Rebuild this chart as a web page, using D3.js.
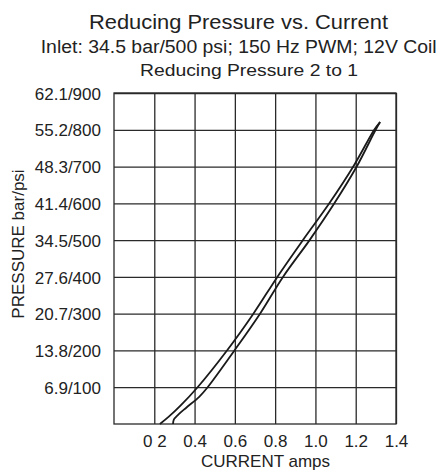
<!DOCTYPE html>
<html>
<head>
<meta charset="utf-8">
<script src="https://cdn.jsdelivr.net/npm/d3@7"></script>
<style>
  body { margin: 0; background: #fff; }
  svg { font-family: "Liberation Sans", Arial, Helvetica, sans-serif; }
</style>
</head>
<body>
<svg id="chart" width="439" height="472"></svg>
<script>
// ticks and labels
var psiTicks = [100, 200, 300, 400, 500, 600, 700, 800, 900];
var yTickLabels = ["6.9/100", "13.8/200", "20.7/300", "27.6/400", "34.5/500",
                   "41.4/600", "48.3/700", "55.2/800", "62.1/900"];
var currentTicks = [0.2, 0.4, 0.6, 0.8, 1.0, 1.2, 1.4];
var xTickLabels = ["0 2", "0.4", "0.6", "0.8", "1.0", "1.2", "1.4"];

// the two curves (current amps, pressure psi)
var upperCurrent = [0.228, 0.272, 0.33, 0.415, 0.561, 0.692, 0.811, 0.938, 1.069, 1.188, 1.292, 1.321];
var upperPsi     = [0,     20,    50,   100,   200,   300,   400,   500,   600,   700,   800,   821];
var lowerCurrent = [0.293, 0.297, 0.318, 0.36, 0.423, 0.465, 0.598, 0.725, 0.839, 0.971, 1.094, 1.205, 1.299, 1.321];
var lowerPsi     = [0,     12,    25,    45,   74,    100,   200,   300,   400,   500,   600,   700,   800,   821];

var margin = {left: 114, right: 43, top: 93, bottom: 48};
var width = 439 - margin.left - margin.right,
    height = 472 - margin.top - margin.bottom;

var svg = d3.select("#chart");
var g = svg.append("g")
  .attr("transform", "translate(" + margin.left + "," + margin.top + ")");

var x = d3.scaleLinear().domain([0, 1.4]).range([0, width]);
var y = d3.scaleLinear().domain([0, 900]).range([height, 0]);

// grid + tick labels via axes
var yAxis = d3.axisLeft(y)
  .tickValues(psiTicks)
  .tickSize(-width)
  .tickPadding(13)
  .tickFormat(function(d, i){ return yTickLabels[i]; });
var xAxis = d3.axisBottom(x)
  .tickValues(currentTicks)
  .tickSize(-height)
  .tickPadding(11)
  .tickFormat(function(d, i){ return xTickLabels[i]; });

var gy = g.append("g").call(yAxis);
var gx = g.append("g").attr("transform", "translate(0," + height + ")").call(xAxis);

[gx, gy].forEach(function(a){
  a.select(".domain").remove();
  a.selectAll("line").attr("stroke", "#2a2a2a").attr("stroke-width", 1.3);
  a.selectAll("text").attr("fill", "#222").style("font-size", "17px");
});
gy.selectAll("text").attr("dy", "0.36em");

g.append("rect")
  .attr("width", width).attr("height", height)
  .attr("fill", "none").attr("stroke", "#2a2a2a").attr("stroke-width", 1.3);

// curves
var line = d3.line()
  .x(function(d){ return x(d[0]); })
  .y(function(d){ return y(d[1]); })
  .curve(d3.curveCatmullRom.alpha(0.5));

var upper = d3.zip(upperCurrent, upperPsi);
var lower = d3.zip(lowerCurrent, lowerPsi);

[upper, lower].forEach(function(s){
  g.append("path")
    .datum(s)
    .attr("fill", "none")
    .attr("stroke", "#1a1a1a")
    .attr("stroke-width", 1.8)
    .attr("d", line);
});

// titles
svg.append("text")
  .attr("x", 238.5).attr("y", 29)
  .attr("text-anchor", "middle")
  .style("font-size", "20px")
  .attr("textLength", 299).attr("lengthAdjust", "spacingAndGlyphs")
  .attr("fill", "#222")
  .text("Reducing Pressure vs. Current");
svg.append("text")
  .attr("x", 238.7).attr("y", 52.5)
  .attr("text-anchor", "middle")
  .style("font-size", "18px")
  .attr("textLength", 396).attr("lengthAdjust", "spacingAndGlyphs")
  .attr("fill", "#222")
  .text("Inlet: 34.5 bar/500 psi; 150 Hz PWM; 12V Coil");
svg.append("text")
  .attr("x", 249).attr("y", 76)
  .attr("text-anchor", "middle")
  .style("font-size", "17px")
  .attr("textLength", 218).attr("lengthAdjust", "spacingAndGlyphs")
  .attr("fill", "#222")
  .text("Reducing Pressure 2 to 1");

// axis titles
svg.append("text")
  .attr("x", 265.5).attr("y", 467)
  .attr("text-anchor", "middle")
  .style("font-size", "17px")
  .attr("fill", "#222")
  .text("CURRENT amps");
svg.append("text")
  .attr("transform", "translate(23.5,244) rotate(-90)")
  .attr("text-anchor", "middle")
  .style("font-size", "17px")
  .attr("fill", "#222")
  .text("PRESSURE bar/psi");
</script>
</body>
</html>
